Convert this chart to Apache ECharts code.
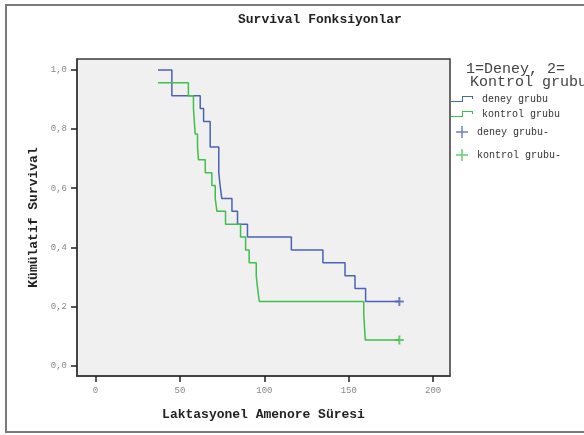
<!DOCTYPE html>
<html>
<head>
<meta charset="utf-8">
<script src="https://cdn.jsdelivr.net/npm/echarts@6/dist/echarts.min.js"></script>
<style>
  html, body { margin: 0; padding: 0; background: #fff; }
  #chart { width: 584px; height: 435px; }
</style>
</head>
<body>
<div id="chart"></div>
<script>
// Kaplan-Meier step points (time, cumulative survival)
const deneyTimes = [37, 45.2, 62, 64, 67.9, 73, 73.8, 74.8, 80.8, 84.1, 90, 116, 134.7, 147.8, 153.7, 160, 180]
const deneySurv = [1.0, 0.913, 0.870, 0.826, 0.739, 0.652, 0.609, 0.565, 0.522, 0.478, 0.435, 0.391, 0.348, 0.304, 0.261, 0.217, 0.217]
const kontrolTimes = [37, 55, 58, 59, 60.4, 61, 65, 68.9, 70.9, 71.9, 77, 85.9, 88.9, 91, 95.2, 96, 97, 158.9, 159.8, 180]
const kontrolSurv = [0.957, 0.913, 0.870, 0.783, 0.739, 0.696, 0.652, 0.609, 0.565, 0.522, 0.478, 0.435, 0.391, 0.348, 0.304, 0.261, 0.217, 0.174, 0.087, 0.087]

// censored cases
const deneyCensor = [[180, 0.217]]
const kontrolCensor = [[180, 0.087]]

const xTicks = [0, 50, 100, 150, 200]
const yTicks = [0, 0.2, 0.4, 0.6, 0.8, 1.0]

const blue = '#4a63b4'
const green = '#3fbf4c'
const mono = '"Liberation Mono", "DejaVu Sans Mono", monospace'

const plusPath = 'path://M3.5,0 H5.5 V3.5 H9 V5.5 H5.5 V9 H3.5 V5.5 H0 V3.5 H3.5 Z'
const thinPlus = 'path://M5.25,0 H6.75 V5.25 H12 V6.75 H6.75 V12 H5.25 V6.75 H0 V5.25 H5.25 Z'
const stepIcon = 'path://M0,5 H11 V0 H22 V3 H21 V1 H12 V6 H0 Z'

const chart = echarts.init(document.getElementById('chart'))

const legendText = { fontFamily: mono, fontSize: 10, color: '#333', padding: [0, 0, 0, 4] }
const noLine = { opacity: 0 }
const boxLine = { show: true, onZero: false, lineStyle: { color: '#3a3a3a', width: 1.5 } }
const tickStyle = { color: '#222', width: 1.5 }

const option = {
  animation: false,
  title: [
    {
      text: 'Survival Fonksiyonlar',
      left: 233,
      top: 8,
      textStyle: { fontFamily: mono, fontSize: 13, fontWeight: 'bold', color: '#222' }
    },
    {
      text: '1=Deney, 2=',
      left: 466,
      top: 62,
      padding: 0,
      textStyle: { fontFamily: mono, fontSize: 15, fontWeight: 'normal', color: '#444' }
    },
    {
      text: 'Kontrol grubu',
      left: 470,
      top: 75,
      padding: 0,
      textStyle: { fontFamily: mono, fontSize: 15, fontWeight: 'normal', color: '#444' }
    }
  ],
  legend: [
    {
      data: [{ name: 'deney grubu', icon: stepIcon }],
      left: 451, top: 94, padding: 0,
      itemWidth: 22, itemHeight: 6,
      selectedMode: false,
      lineStyle: noLine,
      textStyle: legendText
    },
    {
      data: [{ name: 'kontrol grubu', icon: stepIcon }],
      left: 451, top: 109, padding: 0,
      itemWidth: 22, itemHeight: 6,
      selectedMode: false,
      lineStyle: noLine,
      textStyle: legendText
    },
    {
      data: [{ name: 'deney grubu-', icon: thinPlus }],
      left: 456, top: 126, padding: 0,
      itemWidth: 12, itemHeight: 12,
      selectedMode: false,
      textStyle: Object.assign({}, legendText, { padding: [0, 0, 6, 4] })
    },
    {
      data: [{ name: 'kontrol grubu-', icon: thinPlus }],
      left: 456, top: 149, padding: 0,
      itemWidth: 12, itemHeight: 12,
      selectedMode: false,
      textStyle: Object.assign({}, legendText, { padding: [0, 0, 10, 4] })
    }
  ],
  grid: {
    left: 77,
    top: 59,
    width: 373,
    height: 317,
    show: true,
    backgroundColor: '#f0f0f0',
    borderColor: '#3a3a3a',
    borderWidth: 1.5
  },
  xAxis: {
    type: 'value',
    min: -11,
    max: 210,
    name: 'Laktasyonel Amenore Süresi',
    nameLocation: 'middle',
    nameGap: 32,
    nameTextStyle: { fontFamily: mono, fontSize: 13, fontWeight: 'bold', color: '#222' },
    axisLine: boxLine,
    splitLine: { show: false },
    axisTick: { show: true, length: 6, customValues: xTicks, lineStyle: tickStyle },
    axisLabel: {
      customValues: xTicks,
      margin: 10,
      fontFamily: mono,
      fontSize: 9,
      color: '#888'
    }
  },
  yAxis: {
    type: 'value',
    min: -0.035,
    max: 1.037,
    name: 'Kümülatif Survival',
    nameLocation: 'middle',
    nameGap: 36,
    nameTextStyle: { fontFamily: mono, fontSize: 13, fontWeight: 'bold', color: '#222' },
    axisLine: boxLine,
    splitLine: { show: false },
    axisTick: { show: true, length: 6, customValues: yTicks, lineStyle: tickStyle },
    axisLabel: {
      customValues: yTicks,
      margin: 10,
      fontFamily: mono,
      fontSize: 9,
      color: '#888',
      formatter: (v) => v.toFixed(1).replace('.', ',')
    }
  },
  series: [
    {
      name: 'deney grubu',
      type: 'line',
      step: 'end',
      symbol: 'none',
      data: deneyTimes.map((t, i) => [t, deneySurv[i]]),
      color: blue,
      lineStyle: { width: 1.5, color: blue }
    },
    {
      name: 'kontrol grubu',
      type: 'line',
      step: 'end',
      symbol: 'none',
      data: kontrolTimes.map((t, i) => [t, kontrolSurv[i]]),
      color: green,
      lineStyle: { width: 1.5, color: green }
    },
    {
      name: 'deney grubu-',
      type: 'scatter',
      symbol: plusPath,
      symbolSize: 9,
      data: deneyCensor,
      itemStyle: { color: blue }
    },
    {
      name: 'kontrol grubu-',
      type: 'scatter',
      symbol: plusPath,
      symbolSize: 9,
      data: kontrolCensor,
      itemStyle: { color: green }
    }
  ],
  graphic: [
    {
      // outer frame of the output panel
      type: 'rect',
      shape: { x: 6, y: 5, width: 600, height: 427 },
      style: { fill: 'none', stroke: '#7a7a7a', lineWidth: 2 },
      silent: true
    }
  ]
}

chart.setOption(option)
</script>
</body>
</html>
